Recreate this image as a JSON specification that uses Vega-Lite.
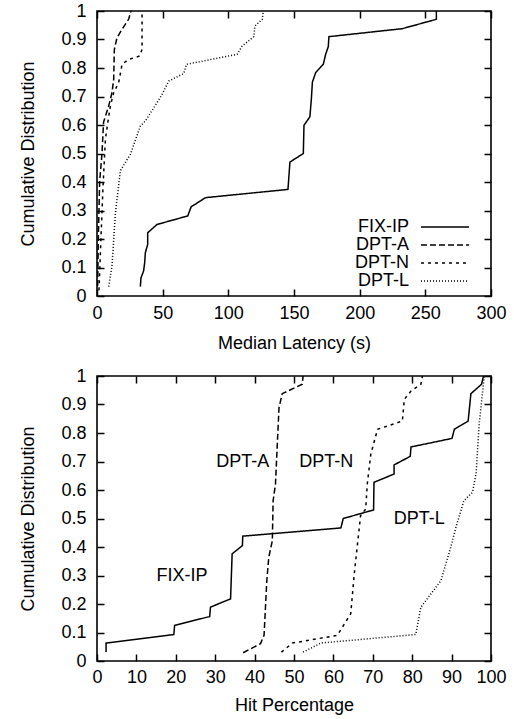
{
  "$schema": "https://vega.github.io/schema/vega-lite/v6.json",
  "padding": {"left": 19, "top": 1, "right": 0, "bottom": 0},
  "spacing": 13,
  "datasets": {
    "latency": [
      {"series": "FIX-IP", "x": 33.0, "y": 0.033}, {"series": "FIX-IP", "x": 33.5, "y": 0.064}, {"series": "FIX-IP", "x": 35.5, "y": 0.088}, {"series": "FIX-IP", "x": 36.3, "y": 0.117}, {"series": "FIX-IP", "x": 36.8, "y": 0.152}, {"series": "FIX-IP", "x": 38.6, "y": 0.181}, {"series": "FIX-IP", "x": 38.6, "y": 0.222}, {"series": "FIX-IP", "x": 45.7, "y": 0.251}, {"series": "FIX-IP", "x": 69.1, "y": 0.281}, {"series": "FIX-IP", "x": 71.7, "y": 0.313}, {"series": "FIX-IP", "x": 82.6, "y": 0.345}, {"series": "FIX-IP", "x": 145.4, "y": 0.374}, {"series": "FIX-IP", "x": 146.9, "y": 0.470}, {"series": "FIX-IP", "x": 157.1, "y": 0.500}, {"series": "FIX-IP", "x": 157.6, "y": 0.599}, {"series": "FIX-IP", "x": 162.1, "y": 0.629}, {"series": "FIX-IP", "x": 163.2, "y": 0.690}, {"series": "FIX-IP", "x": 164.0, "y": 0.750}, {"series": "FIX-IP", "x": 166.5, "y": 0.784}, {"series": "FIX-IP", "x": 172.3, "y": 0.813}, {"series": "FIX-IP", "x": 174.1, "y": 0.848}, {"series": "FIX-IP", "x": 176.1, "y": 0.875}, {"series": "FIX-IP", "x": 176.6, "y": 0.910}, {"series": "FIX-IP", "x": 232.5, "y": 0.938}, {"series": "FIX-IP", "x": 258.4, "y": 0.971}, {"series": "FIX-IP", "x": 258.4, "y": 1.0},
      {"series": "DPT-A", "x": 0.5, "y": 0.035}, {"series": "DPT-A", "x": 1.0, "y": 0.2}, {"series": "DPT-A", "x": 2.0, "y": 0.40}, {"series": "DPT-A", "x": 3.8, "y": 0.50}, {"series": "DPT-A", "x": 5.0, "y": 0.61}, {"series": "DPT-A", "x": 8.9, "y": 0.667}, {"series": "DPT-A", "x": 11.4, "y": 0.713}, {"series": "DPT-A", "x": 12.7, "y": 0.76}, {"series": "DPT-A", "x": 13.2, "y": 0.865}, {"series": "DPT-A", "x": 15.2, "y": 0.906}, {"series": "DPT-A", "x": 19.1, "y": 0.936}, {"series": "DPT-A", "x": 24.1, "y": 0.971}, {"series": "DPT-A", "x": 25.9, "y": 1.0},
      {"series": "DPT-N", "x": 1.5, "y": 0.02}, {"series": "DPT-N", "x": 3.0, "y": 0.2}, {"series": "DPT-N", "x": 4.6, "y": 0.386}, {"series": "DPT-N", "x": 6.4, "y": 0.55}, {"series": "DPT-N", "x": 8.9, "y": 0.63}, {"series": "DPT-N", "x": 10.2, "y": 0.667}, {"series": "DPT-N", "x": 12.7, "y": 0.713}, {"series": "DPT-N", "x": 16.5, "y": 0.749}, {"series": "DPT-N", "x": 19.1, "y": 0.813}, {"series": "DPT-N", "x": 24.1, "y": 0.830}, {"series": "DPT-N", "x": 32.5, "y": 0.842}, {"series": "DPT-N", "x": 34.3, "y": 0.865}, {"series": "DPT-N", "x": 34.3, "y": 1.0},
      {"series": "DPT-L", "x": 8.9, "y": 0.033}, {"series": "DPT-L", "x": 11.4, "y": 0.105}, {"series": "DPT-L", "x": 14.0, "y": 0.29}, {"series": "DPT-L", "x": 17.8, "y": 0.44}, {"series": "DPT-L", "x": 25.4, "y": 0.497}, {"series": "DPT-L", "x": 33.0, "y": 0.596}, {"series": "DPT-L", "x": 36.8, "y": 0.614}, {"series": "DPT-L", "x": 45.7, "y": 0.678}, {"series": "DPT-L", "x": 49.6, "y": 0.708}, {"series": "DPT-L", "x": 54.6, "y": 0.754}, {"series": "DPT-L", "x": 66.1, "y": 0.781}, {"series": "DPT-L", "x": 68.1, "y": 0.813}, {"series": "DPT-L", "x": 106.7, "y": 0.848}, {"series": "DPT-L", "x": 110.5, "y": 0.877}, {"series": "DPT-L", "x": 119.4, "y": 0.910}, {"series": "DPT-L", "x": 120.2, "y": 0.947}, {"series": "DPT-L", "x": 125.8, "y": 0.971}, {"series": "DPT-L", "x": 126.6, "y": 1.0}
    ],
    "hit": [
      {"series": "FIX-IP", "x": 2.3, "y": 0.032}, {"series": "FIX-IP", "x": 2.3, "y": 0.063}, {"series": "FIX-IP", "x": 19.5, "y": 0.093}, {"series": "FIX-IP", "x": 19.7, "y": 0.125}, {"series": "FIX-IP", "x": 28.6, "y": 0.156}, {"series": "FIX-IP", "x": 28.8, "y": 0.189}, {"series": "FIX-IP", "x": 33.9, "y": 0.218}, {"series": "FIX-IP", "x": 34.3, "y": 0.376}, {"series": "FIX-IP", "x": 36.9, "y": 0.405}, {"series": "FIX-IP", "x": 37.0, "y": 0.438}, {"series": "FIX-IP", "x": 61.9, "y": 0.467}, {"series": "FIX-IP", "x": 62.5, "y": 0.500}, {"series": "FIX-IP", "x": 70.2, "y": 0.530}, {"series": "FIX-IP", "x": 70.3, "y": 0.627}, {"series": "FIX-IP", "x": 75.4, "y": 0.656}, {"series": "FIX-IP", "x": 75.4, "y": 0.688}, {"series": "FIX-IP", "x": 79.5, "y": 0.718}, {"series": "FIX-IP", "x": 79.7, "y": 0.751}, {"series": "FIX-IP", "x": 90.1, "y": 0.781}, {"series": "FIX-IP", "x": 90.7, "y": 0.813}, {"series": "FIX-IP", "x": 94.2, "y": 0.842}, {"series": "FIX-IP", "x": 94.9, "y": 0.938}, {"series": "FIX-IP", "x": 97.6, "y": 0.971}, {"series": "FIX-IP", "x": 98.1, "y": 1.0},
      {"series": "DPT-A", "x": 37.1, "y": 0.029}, {"series": "DPT-A", "x": 41.5, "y": 0.061}, {"series": "DPT-A", "x": 42.4, "y": 0.09}, {"series": "DPT-A", "x": 43.1, "y": 0.282}, {"series": "DPT-A", "x": 43.6, "y": 0.364}, {"series": "DPT-A", "x": 44.5, "y": 0.422}, {"series": "DPT-A", "x": 44.7, "y": 0.562}, {"series": "DPT-A", "x": 45.3, "y": 0.621}, {"series": "DPT-A", "x": 45.8, "y": 0.772}, {"series": "DPT-A", "x": 46.2, "y": 0.889}, {"series": "DPT-A", "x": 47.0, "y": 0.938}, {"series": "DPT-A", "x": 52.1, "y": 0.971}, {"series": "DPT-A", "x": 52.3, "y": 1.0},
      {"series": "DPT-N", "x": 46.8, "y": 0.031}, {"series": "DPT-N", "x": 49.6, "y": 0.063}, {"series": "DPT-N", "x": 61.0, "y": 0.09}, {"series": "DPT-N", "x": 64.4, "y": 0.166}, {"series": "DPT-N", "x": 65.3, "y": 0.306}, {"series": "DPT-N", "x": 66.9, "y": 0.51}, {"series": "DPT-N", "x": 68.2, "y": 0.533}, {"series": "DPT-N", "x": 68.6, "y": 0.621}, {"series": "DPT-N", "x": 69.5, "y": 0.726}, {"series": "DPT-N", "x": 71.2, "y": 0.813}, {"series": "DPT-N", "x": 77.5, "y": 0.842}, {"series": "DPT-N", "x": 78.0, "y": 0.918}, {"series": "DPT-N", "x": 79.7, "y": 0.947}, {"series": "DPT-N", "x": 82.2, "y": 0.971}, {"series": "DPT-N", "x": 82.6, "y": 1.0},
      {"series": "DPT-L", "x": 52.3, "y": 0.031}, {"series": "DPT-L", "x": 56.8, "y": 0.063}, {"series": "DPT-L", "x": 80.9, "y": 0.093}, {"series": "DPT-L", "x": 82.2, "y": 0.189}, {"series": "DPT-L", "x": 87.3, "y": 0.282}, {"series": "DPT-L", "x": 89.8, "y": 0.40}, {"series": "DPT-L", "x": 91.1, "y": 0.469}, {"series": "DPT-L", "x": 93.1, "y": 0.562}, {"series": "DPT-L", "x": 95.3, "y": 0.592}, {"series": "DPT-L", "x": 96.2, "y": 0.656}, {"series": "DPT-L", "x": 97.0, "y": 0.831}, {"series": "DPT-L", "x": 98.3, "y": 1.0}
    ],
    "labels": [
      {"label": "DPT-A", "x": 37.0, "y": 0.70},
      {"label": "DPT-N", "x": 58.2, "y": 0.70},
      {"label": "DPT-L", "x": 81.8, "y": 0.50},
      {"label": "FIX-IP", "x": 21.6, "y": 0.30}
    ]
  },
  "vconcat": [
    {
      "width": 394,
      "height": 285,
      "data": {"name": "latency"},
      "layer": [
        {
          "mark": {"type": "line", "strokeWidth": 1.5, "color": "black"},
          "encoding": {
            "x": {"field": "x", "type": "quantitative", "scale": {"domain": [0, 300], "nice": false, "zero": false},
              "axis": {"orient": "bottom", "title": "Median Latency (s)", "values": [0, 50, 100, 150, 200, 250, 300], "offset": -7, "ticks": true, "tickSize": 7, "tickColor": "black", "tickWidth": 1.5, "domain": false, "labelPadding": 8, "titlePadding": 12}},
            "y": {"field": "y", "type": "quantitative", "scale": {"domain": [0, 1], "nice": false},
              "axis": {"orient": "left", "title": "Cumulative Distribution", "values": [0, 0.1, 0.2, 0.3, 0.4, 0.5, 0.6, 0.7, 0.8, 0.9, 1], "format": "~g", "offset": -7, "ticks": true, "tickSize": 7, "tickColor": "black", "tickWidth": 1.5, "domain": false, "labelPadding": 11, "titlePadding": 23}},
            "order": {"field": "y", "type": "quantitative"},
            "strokeDash": {"field": "series", "type": "nominal",
              "scale": {"domain": ["FIX-IP", "DPT-A", "DPT-N", "DPT-L"], "range": [[1, 0], [6, 3], [3, 4], [1, 2]]},
              "legend": {"title": null, "orient": "none", "legendX": 339, "legendY": 207, "symbolType": "M-3,0H3", "symbolSize": 256, "symbolStrokeWidth": 1.5, "symbolStrokeColor": "black", "symbolFillColor": "transparent", "labelFontSize": 18, "labelColor": "black", "labelAlign": "right", "labelOffset": -45, "rowPadding": 0, "padding": 0, "labelLimit": 200}}
          }
        },
        {
          "mark": {"type": "point", "opacity": 0},
          "encoding": {
            "x": {"field": "x", "type": "quantitative", "scale": {"domain": [0, 300], "nice": false, "zero": false},
              "axis": {"orient": "top", "title": null, "labels": false, "values": [0, 50, 100, 150, 200, 250, 300], "offset": -7, "ticks": true, "tickSize": 7, "tickColor": "black", "tickWidth": 1.5, "domain": false}},
            "y": {"field": "y", "type": "quantitative", "scale": {"domain": [0, 1], "nice": false},
              "axis": {"orient": "right", "title": null, "labels": false, "values": [0, 0.1, 0.2, 0.3, 0.4, 0.5, 0.6, 0.7, 0.8, 0.9, 1], "offset": -7, "ticks": true, "tickSize": 7, "tickColor": "black", "tickWidth": 1.5, "domain": false}}
          }
        }
      ],
      "resolve": {"axis": {"x": "independent", "y": "independent"}}
    },
    {
      "width": 394,
      "height": 285,
      "layer": [
        {
          "data": {"name": "hit"},
          "mark": {"type": "line", "strokeWidth": 1.5, "color": "black"},
          "encoding": {
            "x": {"field": "x", "type": "quantitative", "scale": {"domain": [0, 100], "nice": false, "zero": false},
              "axis": {"orient": "bottom", "title": "Hit Percentage", "values": [0, 10, 20, 30, 40, 50, 60, 70, 80, 90, 100], "offset": -7, "ticks": true, "tickSize": 7, "tickColor": "black", "tickWidth": 1.5, "domain": false, "labelPadding": 7, "titlePadding": 10}},
            "y": {"field": "y", "type": "quantitative", "scale": {"domain": [0, 1], "nice": false},
              "axis": {"orient": "left", "title": "Cumulative Distribution", "values": [0, 0.1, 0.2, 0.3, 0.4, 0.5, 0.6, 0.7, 0.8, 0.9, 1], "format": "~g", "offset": -7, "ticks": true, "tickSize": 7, "tickColor": "black", "tickWidth": 1.5, "domain": false, "labelPadding": 11, "titlePadding": 23}},
            "order": {"field": "y", "type": "quantitative"},
            "strokeDash": {"field": "series", "type": "nominal",
              "scale": {"domain": ["FIX-IP", "DPT-A", "DPT-N", "DPT-L"], "range": [[1, 0], [6, 3], [3, 4], [1, 2]]},
              "legend": null}
          }
        },
        {
          "data": {"name": "hit"},
          "mark": {"type": "point", "opacity": 0},
          "encoding": {
            "x": {"field": "x", "type": "quantitative", "scale": {"domain": [0, 100], "nice": false, "zero": false},
              "axis": {"orient": "top", "title": null, "labels": false, "values": [0, 10, 20, 30, 40, 50, 60, 70, 80, 90, 100], "offset": -7, "ticks": true, "tickSize": 7, "tickColor": "black", "tickWidth": 1.5, "domain": false}},
            "y": {"field": "y", "type": "quantitative", "scale": {"domain": [0, 1], "nice": false},
              "axis": {"orient": "right", "title": null, "labels": false, "values": [0, 0.1, 0.2, 0.3, 0.4, 0.5, 0.6, 0.7, 0.8, 0.9, 1], "offset": -7, "ticks": true, "tickSize": 7, "tickColor": "black", "tickWidth": 1.5, "domain": false}}
          }
        },
        {
          "data": {"name": "labels"},
          "mark": {"type": "text", "fontSize": 18, "color": "black", "align": "center", "baseline": "middle"},
          "encoding": {
            "x": {"field": "x", "type": "quantitative", "axis": null},
            "y": {"field": "y", "type": "quantitative", "axis": null},
            "text": {"field": "label"}
          }
        }
      ],
      "resolve": {"axis": {"x": "independent", "y": "independent"}}
    }
  ],
  "resolve": {"scale": {"strokeDash": "independent"}, "legend": {"strokeDash": "independent"}},
  "config": {
    "font": "Liberation Sans",
    "view": {"stroke": "black", "strokeWidth": 1.6},
    "axis": {"labelFontSize": 18, "titleFontSize": 18, "titleFontWeight": "normal", "labelColor": "black", "titleColor": "black", "tickOpacity": 1, "grid": false, "zindex": 1, "labelOverlap": false, "labelFlush": false, "labelFont": "Liberation Sans", "titleFont": "Liberation Sans"},
    "legend": {"labelFont": "Liberation Sans"},
    "text": {"font": "Liberation Sans"}
  }
}
